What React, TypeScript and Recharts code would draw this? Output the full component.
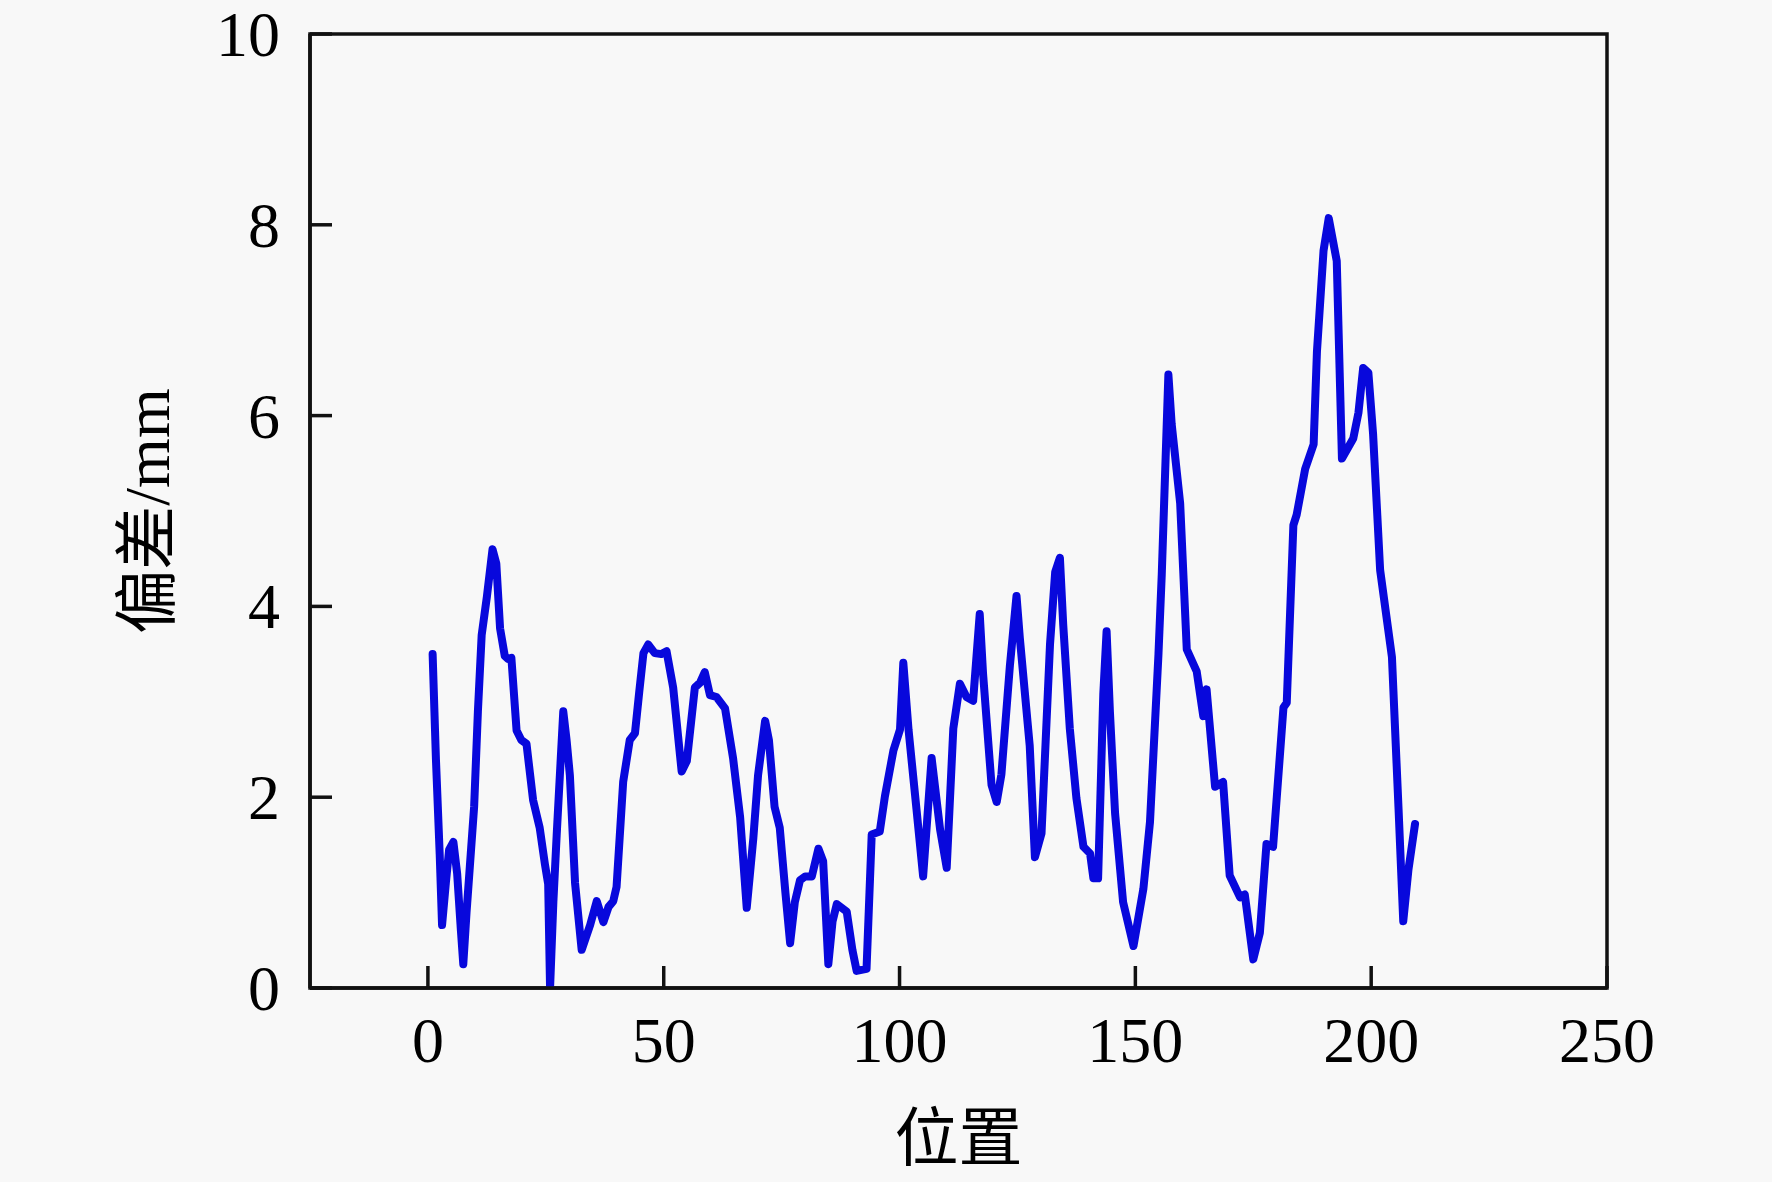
import React from "react";
import { LineChart, Line, XAxis, YAxis, Label, ReferenceArea } from "recharts";

// 位置 (x) and 偏差 (mm)
const positions = [
  1, 1.7, 2.5, 3, 3.8, 4.5, 5.4, 6.2, 7, 7.5, 8.2, 8.9, 9.8, 10.6, 11.4, 12.5,
  13.7, 14.5, 15.3, 16.3, 17, 17.7, 18.8, 19.8, 20.9, 22.3, 23.7, 24.8, 25.5,
  25.9, 26.6, 27.3, 28.7, 29.4, 30.1, 31.2, 32.6, 34.4, 35.8, 37.2, 38.3, 39.3,
  40, 41.4, 42.8, 43.9, 44.8, 45.7, 46.7, 48.1, 49.5, 50.6, 52, 53.8, 54.9,
  56.6, 57.7, 58.7, 59.8, 61.2, 63, 64.7, 66.2, 67.6, 69, 70, 71.5, 72.3, 73.5,
  74.6, 75.8, 76.8, 77.8, 78.9, 80, 81.4, 82.8, 83.8, 84.9, 85.8, 86.7, 88.8,
  90, 90.9, 93, 94.1, 95.8, 96.9, 98.7, 100.1, 100.8, 101.9, 103.6, 105, 106.8,
  108.6, 110, 111.4, 112.8, 114.2, 115.6, 117, 117.7, 119.5, 120.6, 121.6,
  123.4, 124.8, 125.5, 127.6, 128.7, 130.1, 131.9, 133, 134, 134.7, 136.1,
  137.5, 139, 140.4, 141.1, 142.1, 143.2, 143.9, 144.6, 145.7, 147.4, 149.6,
  151.7, 153.1, 154.9, 155.6, 157, 157.7, 159.5, 160.9, 163, 164.4, 165.1,
  166.9, 168.6, 170, 172.2, 173.2, 175, 176.4, 177.8, 179.2, 181.4, 182.1,
  183.5, 184.2, 186, 187.8, 188.5, 189.9, 191, 192.7, 193.8, 196.2, 197.3,
  198.3, 199.4, 200.4, 201.9, 204.4, 205.8, 206.8, 207.9, 209.3,
];

const deviations = [
  3.5, 2.4, 1.4, 0.66, 1.1, 1.45, 1.53, 1.2, 0.6, 0.25, 0.8, 1.28, 1.9, 2.9,
  3.7, 4.1, 4.6, 4.45, 3.77, 3.48, 3.45, 3.46, 2.7, 2.6, 2.56, 1.97, 1.68, 1.3,
  1.09, 0, 0.9, 1.6, 2.9, 2.6, 2.23, 1.1, 0.4, 0.66, 0.91, 0.69, 0.85, 0.91,
  1.06, 2.16, 2.6, 2.67, 3.1, 3.51, 3.6, 3.51, 3.5, 3.53, 3.15, 2.27, 2.38,
  3.15, 3.2, 3.31, 3.07, 3.05, 2.93, 2.41, 1.79, 0.84, 1.57, 2.23, 2.8, 2.6,
  1.9, 1.68, 1.0, 0.47, 0.9, 1.13, 1.17, 1.17, 1.46, 1.33, 0.25, 0.7, 0.88, 0.8,
  0.4, 0.18, 0.2, 1.61, 1.64, 2.01, 2.49, 2.71, 3.41, 2.71, 1.87, 1.17, 2.41,
  1.66, 1.26, 2.72, 3.19, 3.05, 3.01, 3.92, 3.3, 2.13, 1.95, 2.24, 3.38, 4.11,
  3.67, 2.54, 1.37, 1.62, 3.6, 4.36, 4.51, 3.81, 2.72, 1.99, 1.48, 1.41, 1.15,
  1.15, 3.08, 3.74, 2.9, 1.83, 0.9, 0.44, 1.04, 1.74, 3.5, 4.34, 6.43, 5.91,
  5.08, 3.55, 3.32, 2.85, 3.13, 2.11, 2.16, 1.18, 0.95, 0.98, 0.3, 0.58, 1.51,
  1.48, 2.94, 2.99, 4.85, 4.96, 5.44, 5.7, 6.67, 7.73, 8.07, 7.62, 5.55, 5.76,
  6.03, 6.5, 6.45, 5.81, 4.38, 3.47, 1.88, 0.7, 1.24, 1.72,
];

const xTicks = [0, 50, 100, 150, 200, 250];
const yTicks = [0, 2, 4, 6, 8, 10];

const chartData = positions.map((x, i) => ({ x, y: deviations[i] }));

const FONT = '"Liberation Serif", "Times New Roman", "Noto Sans CJK SC", serif';
const AXIS_COLOR = "#111";
const AXIS_WIDTH = 3.5;
const TICK_LEN = 22;

// ticks point into the plot, labels sit outside
function XTick(props: any) {
  const { x, y, payload } = props;
  return (
    <g>
      <line x1={x} x2={x} y1={y} y2={y - TICK_LEN} stroke={AXIS_COLOR} strokeWidth={AXIS_WIDTH} />
      <text x={x} y={y + 74} textAnchor="middle" fontFamily={FONT} fontSize={64} fill="#000">
        {payload.value}
      </text>
    </g>
  );
}

function YTick(props: any) {
  const { x, y, payload } = props;
  return (
    <g>
      <line x1={x} x2={x + TICK_LEN} y1={y} y2={y} stroke={AXIS_COLOR} strokeWidth={AXIS_WIDTH} />
      <text x={x - 30} y={y + 22} textAnchor="end" fontFamily={FONT} fontSize={64} fill="#000">
        {payload.value}
      </text>
    </g>
  );
}

export default function App() {
  return (
    <div
      style={{
        position: "absolute",
        left: 0,
        top: 0,
        width: 1772,
        height: 1182,
        background: "#f8f8f8",
      }}
    >
      <LineChart
        width={1772}
        height={1182}
        data={chartData}
        margin={{ top: 34, right: 165, left: 0, bottom: 0 }}
      >
        <XAxis
          dataKey="x"
          type="number"
          domain={[-25, 250]}
          ticks={xTicks}
          allowDataOverflow
          height={194}
          tickSize={0}
          tickMargin={0}
          tick={<XTick />}
          tickLine={false}
          axisLine={{ stroke: AXIS_COLOR, strokeWidth: AXIS_WIDTH }}
        >
          <Label
            content={(p: any) => {
              const vb = p.viewBox;
              return (
                <text
                  x={vb.x + vb.width / 2}
                  y={vb.y + 172}
                  textAnchor="middle"
                  fontFamily={FONT}
                  fontSize={64}
                  fill="#000"
                >
                  位置
                </text>
              );
            }}
          />
        </XAxis>
        <YAxis
          type="number"
          domain={[0, 10]}
          ticks={yTicks}
          allowDataOverflow
          width={310}
          tickSize={0}
          tickMargin={0}
          tick={<YTick />}
          tickLine={false}
          axisLine={{ stroke: AXIS_COLOR, strokeWidth: AXIS_WIDTH }}
        >
          <Label
            content={(p: any) => {
              const vb = p.viewBox;
              const cx = vb.x + 147;
              const cy = vb.y + vb.height / 2;
              return (
                <text
                  x={cx}
                  y={cy}
                  transform={`rotate(-90 ${cx} ${cy})`}
                  textAnchor="middle"
                  dominantBaseline="central"
                  fontFamily={FONT}
                  fontSize={64}
                  fill="#000"
                >
                  偏差/mm
                </text>
              );
            }}
          />
        </YAxis>
        {/* plot frame (top and right edges) */}
        <ReferenceArea
          x1={-25}
          x2={250}
          y1={0}
          y2={10}
          fill="none"
          fillOpacity={0}
          stroke={AXIS_COLOR}
          strokeWidth={AXIS_WIDTH}
          ifOverflow="visible"
        />
        <Line
          type="linear"
          dataKey="y"
          stroke="#0808dc"
          strokeWidth={8}
          strokeLinejoin="round"
          strokeLinecap="round"
          dot={false}
          isAnimationActive={false}
        />
      </LineChart>
    </div>
  );
}
